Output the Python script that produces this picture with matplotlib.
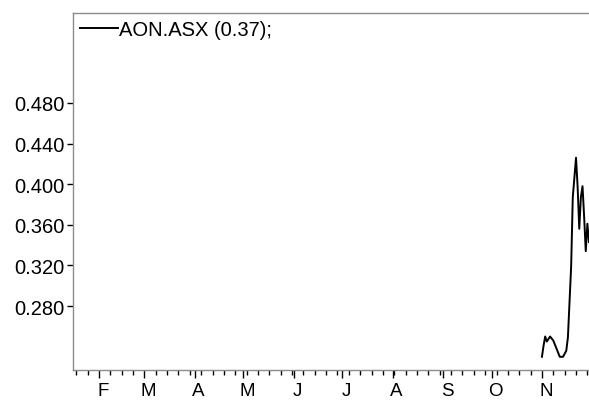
import matplotlib
matplotlib.use("Agg")
import matplotlib.pyplot as plt
import matplotlib.dates as mdates
import matplotlib.transforms as mtransforms
import pandas as pd

# data (AON.ASX closing prices, Nov)
dates = ["2005-11-01", "2005-11-02", "2005-11-03", "2005-11-04", "2005-11-06",
         "2005-11-08", "2005-11-10", "2005-11-12", "2005-11-14", "2005-11-16",
         "2005-11-17", "2005-11-18", "2005-11-19", "2005-11-20", "2005-11-22",
         "2005-11-23", "2005-11-24", "2005-11-25", "2005-11-26", "2005-11-27",
         "2005-11-28", "2005-11-29", "2005-11-30"]
prices = [0.230, 0.241, 0.250, 0.245, 0.250,
          0.246, 0.238, 0.230, 0.230, 0.236,
          0.249, 0.284, 0.319, 0.387, 0.426,
          0.397, 0.356, 0.387, 0.398, 0.368,
          0.334, 0.361, 0.343]
y_ticks = [0.280, 0.320, 0.360, 0.400, 0.440, 0.480]
month_labels = ["F", "M", "A", "M", "J", "J", "A", "S", "O", "N"]
legend_label = "AON.ASX (0.37);"

dates = pd.to_datetime(dates)

plt.rcParams['font.family'] = ['Liberation Sans', 'DejaVu Sans']

fig = plt.figure(figsize=(5.89, 4.10), dpi=100)
ax = fig.add_axes([73 / 589, 1 - 371 / 410, 1 - 73 / 589, (371 - 14) / 410])

ax.plot(dates, prices, color="black", lw=1.4, label=legend_label)

ax.set_xlim(pd.Timestamp("2005-01-16"), pd.Timestamp("2005-11-30"))
ax.set_ylim(0.217, 0.5685)

# x axis: month starts (major) + weekly ticks (minor)
month_starts = pd.date_range("2005-02-01", "2005-11-01", freq="MS")
ax.set_xticks(month_starts)
ax.set_xticklabels(month_labels)
ax.xaxis.set_minor_locator(mdates.WeekdayLocator(byweekday=mdates.TU))
ax.tick_params(axis="x", which="major", length=6, width=1, pad=3, labelsize=13.5)
ax.tick_params(axis="x", which="minor", length=3.5, width=1)
# month letters sit a little to the right of their tick
shift = mtransforms.ScaledTranslation(4 / 100, 0, fig.dpi_scale_trans)
for lbl in ax.get_xticklabels():
    lbl.set_transform(lbl.get_transform() + shift)

ax.set_yticks(y_ticks)
ax.set_yticklabels([f"{v:.3f}" for v in y_ticks])
ax.tick_params(axis="y", which="major", length=4, width=1, pad=2, labelsize=14.5)

for side in ["top", "left", "bottom"]:
    ax.spines[side].set_color("#8c8c8c")
    ax.spines[side].set_linewidth(1)
ax.spines["right"].set_visible(False)

leg = ax.legend(loc="upper left", frameon=False, fontsize=14.5, handlelength=1.9,
                handletextpad=0.05, borderaxespad=0.1, borderpad=0.25)

fig.savefig("out.png", dpi=100)
